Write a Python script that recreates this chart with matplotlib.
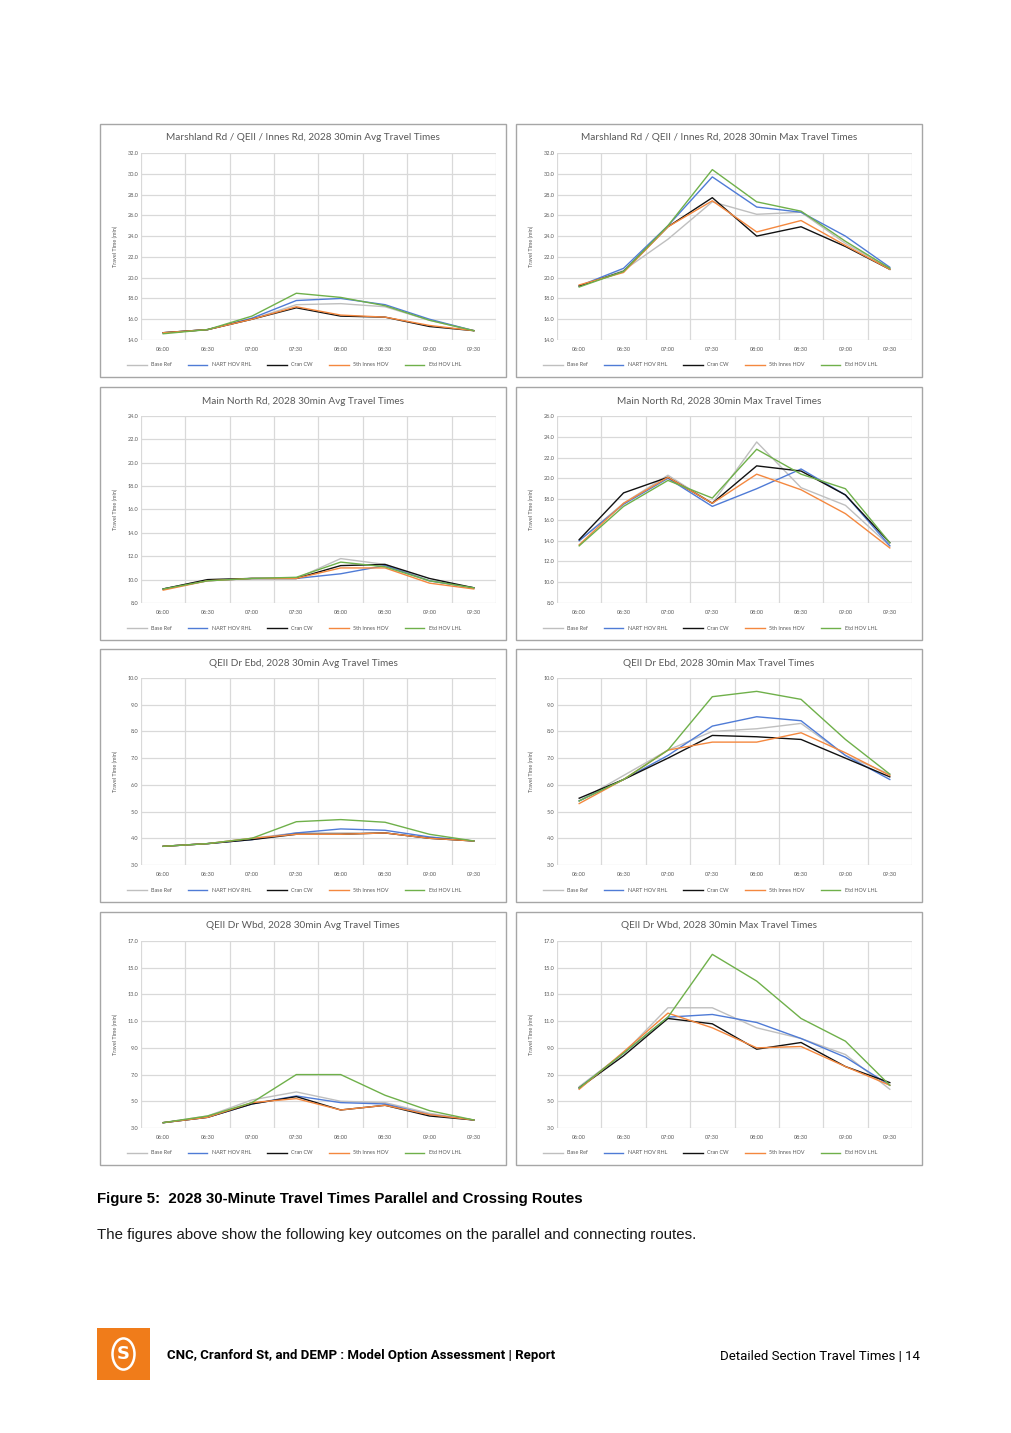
import matplotlib
matplotlib.use("Agg")
import matplotlib.pyplot as plt
from matplotlib.patches import Rectangle, Circle

times = ['06:00', '06:30', '07:00', '07:30', '08:00', '08:30', '09:00', '09:30']
series_names = ['Base Ref', 'NART HOV RHL', 'Cran CW', '5th Innes HOV', 'Etd HOV LHL']
series_colors = ['#bfbfbf', '#4f7bd6', '#111111', '#f4883f', '#6fb04a']

# Marshland Rd / QEII / Innes Rd
marsh_avg = {
    'Base Ref':      [14.7, 15.0, 16.0, 17.4, 17.5, 17.2, 15.9, 14.9],
    'NART HOV RHL':  [14.7, 15.0, 16.1, 17.8, 18.0, 17.4, 16.0, 14.9],
    'Cran CW':       [14.7, 15.0, 16.0, 17.1, 16.3, 16.2, 15.3, 14.9],
    '5th Innes HOV': [14.7, 15.0, 16.0, 17.2, 16.4, 16.2, 15.4, 14.9],
    'Etd HOV LHL':   [14.6, 15.0, 16.3, 18.5, 18.1, 17.3, 15.9, 14.9],
}
marsh_max = {
    'Base Ref':      [19.2, 20.7, 23.7, 27.3, 26.1, 26.3, 23.3, 20.9],
    'NART HOV RHL':  [19.2, 20.9, 25.0, 29.7, 26.8, 26.3, 24.0, 21.0],
    'Cran CW':       [19.2, 20.6, 24.9, 27.7, 24.0, 24.9, 23.0, 20.8],
    '5th Innes HOV': [19.3, 20.5, 24.9, 27.4, 24.4, 25.5, 23.1, 20.8],
    'Etd HOV LHL':   [19.1, 20.6, 25.0, 30.4, 27.3, 26.4, 23.5, 20.9],
}
# Main North Rd
mnr_avg = {
    'Base Ref':      [9.2, 10.0, 10.1, 10.1, 11.8, 11.3, 9.9, 9.3],
    'NART HOV RHL':  [9.2, 9.9, 10.1, 10.1, 10.5, 11.2, 9.9, 9.3],
    'Cran CW':       [9.2, 10.0, 10.1, 10.1, 11.2, 11.3, 10.1, 9.3],
    '5th Innes HOV': [9.1, 9.9, 10.1, 10.1, 11.0, 11.0, 9.7, 9.2],
    'Etd HOV LHL':   [9.2, 9.9, 10.1, 10.2, 11.5, 11.1, 9.9, 9.3],
}
mnr_max = {
    'Base Ref':      [14.0, 17.6, 20.3, 17.6, 23.5, 19.1, 17.4, 13.5],
    'NART HOV RHL':  [14.0, 17.5, 20.0, 17.3, 19.0, 20.9, 18.4, 13.5],
    'Cran CW':       [14.1, 18.6, 20.1, 17.6, 21.2, 20.7, 18.4, 13.8],
    '5th Innes HOV': [13.6, 17.6, 20.1, 17.6, 20.4, 18.9, 16.6, 13.3],
    'Etd HOV LHL':   [13.5, 17.3, 19.8, 18.1, 22.8, 20.4, 19.0, 13.8],
}
# QEII Dr Ebd
ebd_avg = {
    'Base Ref':      [3.7, 3.8, 4.0, 4.2, 4.2, 4.2, 4.0, 3.9],
    'NART HOV RHL':  [3.7, 3.8, 3.95, 4.2, 4.35, 4.3, 4.05, 3.9],
    'Cran CW':       [3.7, 3.8, 3.95, 4.15, 4.15, 4.2, 4.0, 3.9],
    '5th Innes HOV': [3.7, 3.8, 4.0, 4.15, 4.15, 4.2, 4.0, 3.9],
    'Etd HOV LHL':   [3.7, 3.8, 4.0, 4.62, 4.7, 4.6, 4.15, 3.9],
}
ebd_max = {
    'Base Ref':      [5.4, 6.35, 7.3, 8.0, 8.1, 8.3, 7.1, 6.4],
    'NART HOV RHL':  [5.4, 6.2, 7.1, 8.2, 8.55, 8.4, 7.1, 6.2],
    'Cran CW':       [5.5, 6.2, 7.0, 7.85, 7.8, 7.7, 7.0, 6.3],
    '5th Innes HOV': [5.3, 6.2, 7.3, 7.6, 7.6, 7.95, 7.2, 6.35],
    'Etd HOV LHL':   [5.4, 6.2, 7.3, 9.3, 9.5, 9.2, 7.7, 6.4],
}
# QEII Dr Wbd
wbd_avg = {
    'Base Ref':      [3.4, 3.9, 5.1, 5.7, 5.0, 4.9, 4.1, 3.6],
    'NART HOV RHL':  [3.4, 3.8, 4.8, 5.4, 4.9, 4.8, 4.0, 3.6],
    'Cran CW':       [3.4, 3.8, 4.8, 5.35, 4.35, 4.7, 3.9, 3.6],
    '5th Innes HOV': [3.4, 3.8, 4.9, 5.2, 4.35, 4.7, 4.0, 3.6],
    'Etd HOV LHL':   [3.4, 3.9, 4.9, 7.0, 7.0, 5.45, 4.3, 3.6],
}
wbd_max = {
    'Base Ref':      [6.1, 8.6, 12.0, 12.0, 10.5, 9.7, 8.5, 5.9],
    'NART HOV RHL':  [6.0, 8.6, 11.3, 11.5, 10.9, 9.7, 8.3, 6.2],
    'Cran CW':       [6.0, 8.4, 11.2, 10.8, 8.9, 9.4, 7.6, 6.4],
    '5th Innes HOV': [5.9, 8.7, 11.6, 10.5, 9.0, 9.1, 7.6, 6.2],
    'Etd HOV LHL':   [6.0, 8.6, 11.3, 16.0, 14.0, 11.2, 9.5, 6.2],
}

panels = [
    ('Marshland Rd / QEII / Innes Rd, 2028 30min Avg Travel Times', marsh_avg, 14, 32, 2),
    ('Marshland Rd / QEII / Innes Rd, 2028 30min Max Travel Times', marsh_max, 14, 32, 2),
    ('Main North Rd, 2028 30min Avg Travel Times', mnr_avg, 8, 24, 2),
    ('Main North Rd, 2028 30min Max Travel Times', mnr_max, 8, 26, 2),
    ('QEII Dr Ebd, 2028 30min Avg Travel Times', ebd_avg, 3, 10, 1),
    ('QEII Dr Ebd, 2028 30min Max Travel Times', ebd_max, 3, 10, 1),
    ('QEII Dr Wbd, 2028 30min Avg Travel Times', wbd_avg, 3, 17, 2),
    ('QEII Dr Wbd, 2028 30min Max Travel Times', wbd_max, 3, 17, 2),
]

W, H = 1012, 1433
fig = plt.figure(figsize=(W / 100, H / 100), dpi=100)
fig.patch.set_facecolor('white')
txt_gray = '#595959'
chart_font = ['Lato', 'DejaVu Sans']

col_x = [100, 516]
row_y = [124, 387, 649, 912]
panel_w, panel_h = 406, 253

for i, (title, data, ymin, ymax, ystep) in enumerate(panels):
    px = col_x[i % 2]
    py = row_y[i // 2]
    # outer chart border
    fig.patches.append(Rectangle((px / W, 1 - (py + panel_h) / H), panel_w / W, panel_h / H,
                                 transform=fig.transFigure, fill=False,
                                 edgecolor='#a6a6a6', linewidth=1.0))
    ax = fig.add_axes([(px + 41) / W, 1 - (py + 216) / H, 355 / W, 187 / H])
    for name, color in zip(series_names, series_colors):
        ax.plot(range(len(times)), data[name], color=color, linewidth=1.0, label=name)
    ax.set_xlim(-0.5, len(times) - 0.5)
    ax.set_ylim(ymin, ymax)
    yt = [ymin + k * ystep for k in range(int(round((ymax - ymin) / ystep)) + 1)]
    ax.set_yticks(yt)
    ax.set_yticklabels(['%.1f' % v for v in yt])
    ax.set_xticks(range(len(times)))
    ax.set_xticklabels(times)
    ax.set_xticks([k - 0.5 for k in range(len(times) + 1)], minor=True)
    ax.grid(which='minor', axis='x', color='#d9d9d9', linewidth=0.9)
    ax.grid(which='major', axis='y', color='#d9d9d9', linewidth=0.9)
    ax.set_axisbelow(True)
    for s in ax.spines.values():
        s.set_visible(False)
    ax.tick_params(which='both', length=0)
    ax.tick_params(axis='y', pad=2, labelsize=4.0, labelcolor=txt_gray)
    ax.tick_params(axis='x', pad=5, labelsize=4.0, labelcolor=txt_gray)
    for lab in ax.get_xticklabels() + ax.get_yticklabels():
        lab.set_family(chart_font)
    fig.text((px + panel_w / 2) / W, 1 - (py + 14) / H, title, ha='center', va='center',
             fontsize=7.2, color=txt_gray, family=chart_font)
    fig.text((px + 15) / W, 1 - (py + 122) / H, 'Travel Time (min)', rotation=90,
             ha='center', va='center', fontsize=4.0, color=txt_gray, family=chart_font)
    leg = fig.legend(handles=ax.get_lines(), loc='center',
                     bbox_to_anchor=((px + 194) / W, 1 - (py + 241) / H),
                     ncol=5, frameon=False, handlelength=3.6,
                     columnspacing=3.0, handletextpad=0.8,
                     prop={'family': chart_font, 'size': 3.9})
    for t in leg.get_texts():
        t.set_color(txt_gray)

# caption and body text
fig.text(97 / W, 1 - 1199 / H, 'Figure 5:  2028 30-Minute Travel Times Parallel and Crossing Routes',
         ha='left', va='center', fontsize=10.8, fontweight='bold', color='#000000',
         family=['Liberation Sans', 'DejaVu Sans'])
fig.text(97 / W, 1 - 1235 / H,
         'The figures above show the following key outcomes on the parallel and connecting routes.',
         ha='left', va='center', fontsize=10.8, color='#1a1a1a',
         family=['Liberation Sans', 'DejaVu Sans'])

# footer
fig.patches.append(Rectangle((97 / W, 1 - 1380 / H), 53 / W, 52 / H, transform=fig.transFigure,
                             facecolor='#f07c1a', edgecolor='none'))
fig.patches.append(Circle((123.5 / W, 1 - 1354 / H), 11 / W, transform=fig.transFigure,
                          facecolor='none', edgecolor='white', linewidth=1.8))
fig.text(123.5 / W, 1 - 1354 / H, 'S', ha='center', va='center', fontsize=13, fontweight='bold',
         color='white', family=['DejaVu Sans'])
fig.text(167 / W, 1 - 1356 / H, 'CNC, Cranford St, and DEMP : Model Option Assessment | Report',
         ha='left', va='center', fontsize=9.5, fontweight='bold', color='#000000',
         family=['Roboto', 'DejaVu Sans'])
fig.text(920 / W, 1 - 1356 / H, 'Detailed Section Travel Times | 14',
         ha='right', va='center', fontsize=9.5, color='#000000',
         family=['Roboto', 'DejaVu Sans'])

fig.savefig('out.png', dpi=100, facecolor='white')
